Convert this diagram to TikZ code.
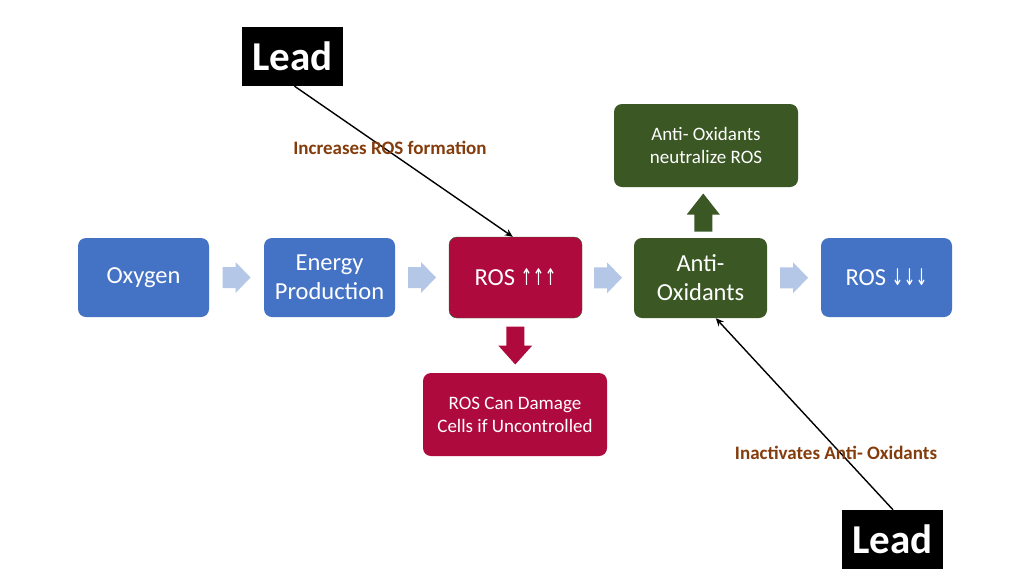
\documentclass[tikz,border=0pt]{standalone}
\usepackage{fontspec}
\setmainfont{Carlito}
\newfontfamily\symfont{DejaVu Sans}
\usetikzlibrary{calc,arrows.meta}
\definecolor{boxblue}{HTML}{4472C4}
\definecolor{boxred}{HTML}{AE0A3E}
\definecolor{boxgreen}{HTML}{3A5724}
\definecolor{chev}{HTML}{B4C7E7}
\definecolor{lbl}{HTML}{843C0C}
\newcommand\myarr[1]{\scalebox{0.62}[1]{\symfont\fontsize{23}{25}\selectfont #1}}
\tikzset{
  box/.style={rounded corners=8pt, text=white, align=center, inner sep=2pt,
    minimum width=131pt, minimum height=79pt, font=\fontsize{24.5}{29}\selectfont},
  smallbox/.style={box, minimum width=184pt, minimum height=83pt, font=\fontsize{19}{23}\selectfont},
  leadbox/.style={fill=black, text=white, minimum width=101pt, minimum height=59pt,
    font=\fontsize{41}{46}\selectfont\bfseries, inner sep=0pt},
  lbltext/.style={text=lbl, font=\fontsize{19}{22}\selectfont\bfseries},
  link/.style={draw=black, line width=1.4pt, -{Stealth[length=8pt,width=7pt]}},
}
\begin{document}
\begin{tikzpicture}[x=1pt,y=-1pt]
\useasboundingbox (0,0) rectangle (1024,576);
\fill[white] (0,0) rectangle (1024,576);

\node[box, fill=boxblue] (oxy) at (143.5,277.5) {Oxygen};
\node[box, fill=boxblue] (energy) at (329.5,277.5) {Energy\\Production};
\node[box, fill=boxred, draw=gray!60!green!60!black, line width=0.4pt, minimum width=133pt, minimum height=81pt] (rosup) at (515.5,277.5) {ROS \myarr{↑↑↑}};
\node[box, fill=boxgreen, minimum width=133pt, minimum height=80pt] (anti) at (700.5,278) {Anti-\\Oxidants};
\node[box, fill=boxblue] (rosdown) at (886.5,277.5) {ROS \myarr{↓↓↓}};

\node[smallbox, fill=boxgreen] (neut) at (706,145.5) {Anti- Oxidants\\neutralize ROS};
\node[smallbox, fill=boxred] (damage) at (515,414.5) {ROS Can Damage\\Cells if Uncontrolled};

\node[leadbox] (lead1) at (292.5,56.5) {Lead};
\node[leadbox] (lead2) at (892.5,539.5) {Lead};

% chevrons
\foreach \a/\b in {oxy/energy, energy/rosup, rosup/anti, anti/rosdown}{
  \coordinate (m) at ($(\a.east)!0.5!(\b.west)$);
  \fill[chev, shift={(m)}] (-14,-10.5) -- (-1,-10.5) -- (-1,-15.5) -- (14,0) -- (-1,15.5) -- (-1,10.5) -- (-14,10.5) -- cycle;
}

% block arrows
\coordinate (dA) at ($(rosup.south)!0.5!(damage.north)$);
\fill[boxred, shift={(dA)}] (-9,-19) -- (9,-19) -- (9,0) -- (17,0) -- (0,19) -- (-17,0) -- (-9,0) -- cycle;
\coordinate (uA) at ($(anti.north)!0.5!(neut.south)$);
\fill[boxgreen, shift={(uA)}] (-9,19) -- (9,19) -- (9,2) -- (16.5,2) -- (0,-19) -- (-16.5,2) -- (-9,2) -- cycle;

% lead links
\draw[link] ($(lead1.south)+(2,0)$) -- ($(rosup.north west)+(64,0)$);
\draw[link] ($(lead2.north)+(0.5,0)$) -- ($(anti.south west)+(82,0)$);

\node[lbltext] (lab1) at (390,148) {Increases ROS formation};
\node[lbltext] (lab2) at (836,453) {Inactivates Anti- Oxidants};
\end{tikzpicture}
\end{document}
